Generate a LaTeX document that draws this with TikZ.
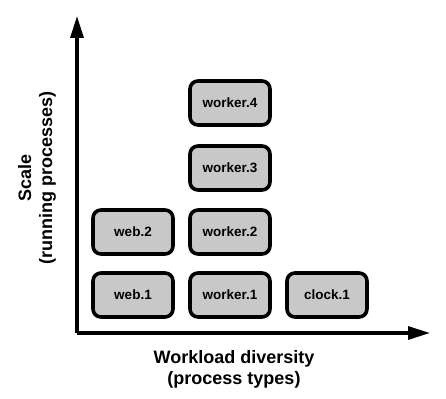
\documentclass[tikz,border=0pt]{standalone}
\usepackage{fontspec}
\setmainfont{Liberation Sans}
\usepackage{tikz}
\usetikzlibrary{arrows.meta}
\definecolor{procgray}{RGB}{200, 200, 200}

\tikzset{
    proc/.style={draw=black, fill=procgray, line width=3.6pt, rounded corners=8pt,
        minimum width=80pt, minimum height=44pt, inner sep=0pt,
        font=\fontsize{13.5}{15}\selectfont\bfseries},
    axis/.style={line width=3.2pt, -{Triangle[length=22pt, width=13pt]}},
    axislabel/.style={align=center, font=\fontsize{18}{21}\selectfont\bfseries}
}

\begin{document}
\begin{tikzpicture}[x=1pt, y=-1pt]
    \useasboundingbox (0,0) rectangle (446,398);

    % Axes
    \coordinate (O) at (77,333);
    \coordinate (ytop) at (77,16);
    \coordinate (xend) at (430,333);
    \draw[axis] (O) -- (ytop);
    \draw[axis] (O) -- (xend);

    % Axis labels
    \node[axislabel, rotate=90] (scale) at (37,178) {Scale\\(running processes)};
    \node[axislabel] (diversity) at (234,369) {Workload diversity\\(process types)};

    % Process boxes
    \node[proc] (web1) at (133,295) {web.1};
    \node[proc] (web2) at (133,232) {web.2};
    \node[proc] (worker1) at (230,295) {worker.1};
    \node[proc] (worker2) at (230,232) {worker.2};
    \node[proc] (worker3) at (230,168) {worker.3};
    \node[proc] (worker4) at (230,103) {worker.4};
    \node[proc] (clock1) at (327,295) {clock.1};
\end{tikzpicture}
\end{document}
